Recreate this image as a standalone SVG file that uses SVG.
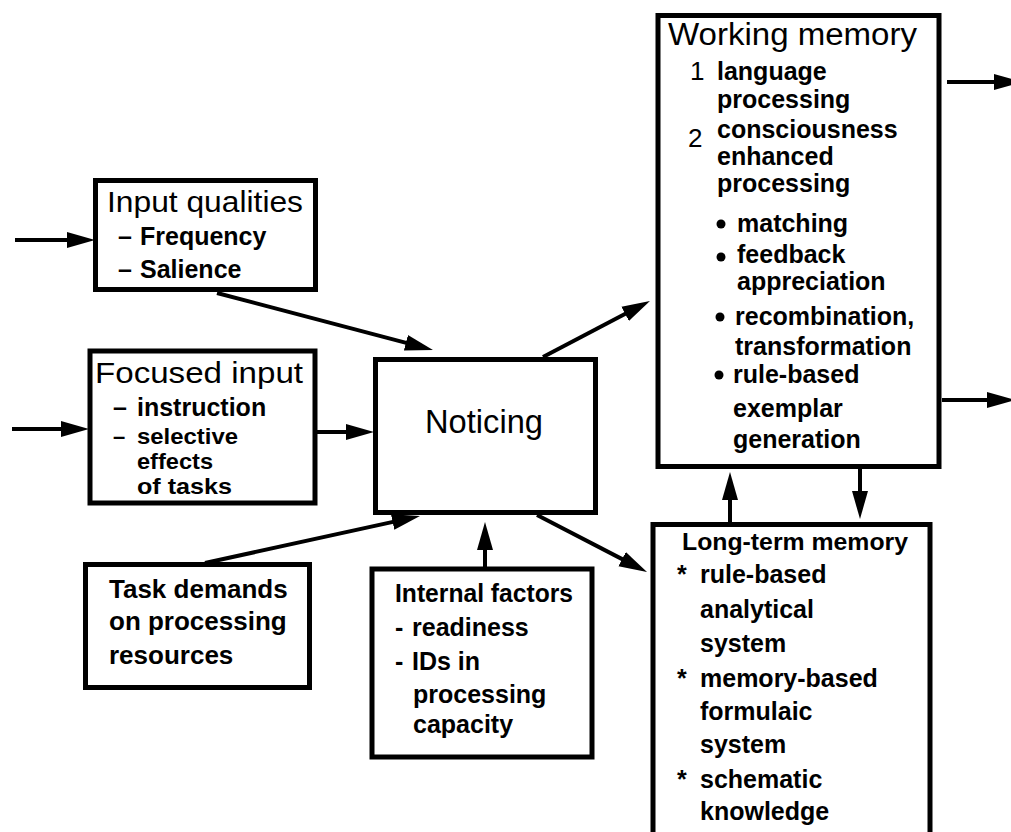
<svg xmlns="http://www.w3.org/2000/svg" width="1011" height="832" viewBox="0 0 1011 832">
<style>
.box{fill:#fff;stroke:#000;stroke-width:5}
.ttl{font-family:"Liberation Sans",Arial,sans-serif;font-size:30px;fill:#000}
.itm{font-family:"Liberation Sans",Arial,sans-serif;font-size:25px;font-weight:bold;fill:#000}
.sm{font-size:22px}
.num{font-family:"Liberation Sans",Arial,sans-serif;font-size:26px;fill:#000}
.cn line{stroke:#000;stroke-width:4;marker-end:url(#ah)}
</style>
<defs>
<marker id="ah" markerUnits="userSpaceOnUse" markerWidth="30" markerHeight="20" viewBox="0 -10 30 20" refX="18" refY="0" orient="auto">
<path d="M0,-8 L28,0 L0,8 Z" fill="#000"/>
</marker>
</defs>
<rect width="1011" height="832" fill="#fff"/>
<g id="input-qualities">
<rect class="box" x="95.5" y="180.5" width="220" height="109"/>
<text class="ttl" x="107" y="212" textLength="196" lengthAdjust="spacingAndGlyphs">Input qualities</text>
<text class="itm" y="245"><tspan x="118">–</tspan><tspan x="140">Frequency</tspan></text>
<text class="itm" y="278"><tspan x="118">–</tspan><tspan x="140">Salience</tspan></text>
</g>
<g id="focused-input">
<rect class="box" x="90" y="351" width="225" height="152"/>
<text class="ttl" x="95" y="383" textLength="208" lengthAdjust="spacingAndGlyphs">Focused input</text>
<text class="itm" y="416"><tspan x="113">–</tspan><tspan x="137">instruction</tspan></text>
<text class="itm sm" y="444"><tspan x="113">–</tspan><tspan x="137" textLength="101" lengthAdjust="spacingAndGlyphs">selective</tspan></text>
<text class="itm sm" x="137" y="469" textLength="76" lengthAdjust="spacingAndGlyphs">effects</text>
<text class="itm sm" x="137" y="494" textLength="95" lengthAdjust="spacingAndGlyphs">of tasks</text>
</g>
<g id="noticing">
<rect class="box" x="375.5" y="359.5" width="220" height="153"/>
<text class="ttl" x="425" y="433" style="font-size:33px" textLength="118" lengthAdjust="spacingAndGlyphs">Noticing</text>
</g>
<g id="task-demands">
<rect class="box" x="85.5" y="564.5" width="224" height="123"/>
<text class="itm" x="109" y="598" style="font-size:26px">Task demands</text>
<text class="itm" x="109" y="630" style="font-size:26px">on processing</text>
<text class="itm" x="109" y="664" style="font-size:26px">resources</text>
</g>
<g id="internal-factors">
<rect class="box" x="372" y="569" width="220" height="188"/>
<text class="itm" x="395" y="602" textLength="178" lengthAdjust="spacingAndGlyphs">Internal factors</text>
<text class="itm" y="636"><tspan x="395">-</tspan><tspan x="412">readiness</tspan></text>
<text class="itm" y="670"><tspan x="395">-</tspan><tspan x="412">IDs in</tspan></text>
<text class="itm" x="413" y="703">processing</text>
<text class="itm" x="413" y="733">capacity</text>
</g>
<g id="working-memory">
<rect class="box" x="658" y="15.5" width="281" height="451"/>
<text class="ttl" x="668" y="45" style="font-size:31px" textLength="249" lengthAdjust="spacingAndGlyphs">Working memory</text>
<text class="num" x="690" y="80">1</text>
<text class="itm" x="717" y="80">language</text>
<text class="itm" x="717" y="108">processing</text>
<text class="num" x="688" y="147">2</text>
<text class="itm" x="717" y="138">consciousness</text>
<text class="itm" x="717" y="165">enhanced</text>
<text class="itm" x="717" y="192">processing</text>
<circle cx="721" cy="224" r="4.5"/>
<text class="itm" x="737" y="232">matching</text>
<circle cx="721" cy="257" r="4.5"/>
<text class="itm" x="737" y="263">feedback</text>
<text class="itm" x="737" y="290">appreciation</text>
<circle cx="720" cy="317" r="4.5"/>
<text class="itm" x="735" y="325">recombination,</text>
<text class="itm" x="735" y="355">transformation</text>
<circle cx="719" cy="375" r="4.5"/>
<text class="itm" x="733" y="383">rule-based</text>
<text class="itm" x="733" y="417">exemplar</text>
<text class="itm" x="733" y="448">generation</text>
</g>
<g id="long-term-memory">
<rect class="box" x="653" y="524.5" width="277" height="320"/>
<text class="itm" x="682" y="550" style="font-size:24px" textLength="226" lengthAdjust="spacingAndGlyphs">Long-term memory</text>
<text class="itm" y="583"><tspan x="677">*</tspan><tspan x="700">rule-based</tspan></text>
<text class="itm" x="700" y="618">analytical</text>
<text class="itm" x="700" y="652">system</text>
<text class="itm" y="687"><tspan x="677">*</tspan><tspan x="700">memory-based</tspan></text>
<text class="itm" x="700" y="720">formulaic</text>
<text class="itm" x="700" y="753">system</text>
<text class="itm" y="788"><tspan x="677">*</tspan><tspan x="700">schematic</tspan></text>
<text class="itm" x="700" y="820">knowledge</text>
</g>
<g id="connectors" class="cn">
<line x1="15" y1="240" x2="85" y2="240"/>
<line x1="12" y1="429" x2="79" y2="429"/>
<line x1="217" y1="293" x2="423.3" y2="347.4"/>
<line x1="316" y1="432" x2="364" y2="432"/>
<line x1="205" y1="563" x2="410.2" y2="518.1"/>
<line x1="485" y1="568" x2="485" y2="532"/>
<line x1="543" y1="357" x2="641.1" y2="305.6"/>
<line x1="537" y1="515" x2="638.1" y2="567.4"/>
<line x1="730" y1="523" x2="730" y2="482"/>
<line x1="860" y1="467" x2="860" y2="509"/>
<line x1="947" y1="82" x2="1012" y2="82"/>
<line x1="942" y1="400" x2="1005" y2="400"/>
</g>
</svg>
